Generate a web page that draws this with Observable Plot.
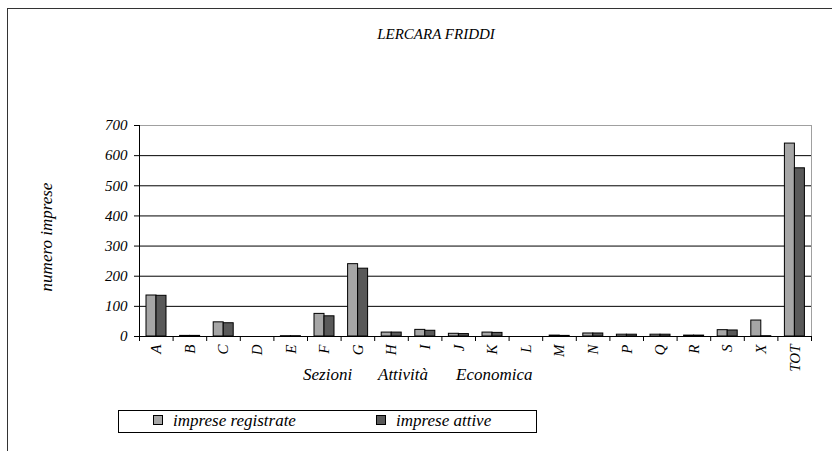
<!DOCTYPE html>
<html><head><meta charset="utf-8">
<script src="https://cdn.jsdelivr.net/npm/d3@7"></script>
<script src="https://cdn.jsdelivr.net/npm/@observablehq/plot@0.6"></script>
<style>
body{margin:0;background:#fff;}
#wrap{position:relative;width:832px;height:451px;overflow:hidden;font-family:"Liberation Serif","DejaVu Serif",serif;font-style:italic;color:#000;}
#border{position:absolute;left:7px;top:8px;width:900px;height:500px;border:1.5px solid #333;box-sizing:border-box;}
#title{position:absolute;left:336px;width:200px;top:26px;text-align:center;font-size:15px;}
#ytitle{position:absolute;left:47px;top:237px;font-size:17px;transform:translate(-50%,-50%) rotate(-90deg);white-space:nowrap;}
.xw{position:absolute;top:365px;font-size:17px;white-space:nowrap;}
#legend{position:absolute;left:118px;top:410px;width:419px;height:23px;border:1px solid #000;box-sizing:border-box;font-size:17px;}
.item{position:absolute;top:0px;white-space:nowrap;}
.sw{display:inline-block;width:8px;height:8px;border:1px solid #000;margin-right:10px;vertical-align:1px;}
#chart{position:absolute;left:0;top:0;}
</style></head><body>
<div id="wrap">
<div id="border"></div>
<div id="title">LERCARA FRIDDI</div>
<div id="ytitle">numero imprese</div>
<div id="chart"></div>
<div class="xw" style="left:303px">Sezioni</div>
<div class="xw" style="left:378px">Attività</div>
<div class="xw" style="left:456px">Economica</div>
<div id="legend"></div>
</div>
<script>
const categories = ["A","B","C","D","E","F","G","H","I","J","K","L","M","N","P","Q","R","S","X","TOT"];
const registrate = [136,2,47,0,1,75,240,13,22,9,13,0,3,10,6,6,3,21,53,640];
const attive = [135,2,44,0,1,67,225,13,19,8,12,0,2,10,6,6,3,20,1,558];
const yTicks = [0,100,200,300,400,500,600,700];
const series = ["imprese registrate","imprese attive"];
const colors = ["#a6a6a6","#595959"];

const regData = categories.map((c,i)=>({cat:c, v:registrate[i]})).filter(d=>d.v>0);
const attData = categories.map((c,i)=>({cat:c, v:attive[i]})).filter(d=>d.v>0);

const W = 832, H = 451, mL = 139, mR = 21, mT = 125, mB = 115;
const step = (W - mL - mR) / categories.length;
const FONT = '"Liberation Serif","DejaVu Serif",serif';

const chart = Plot.plot({
  width: W, height: H,
  marginLeft: mL, marginRight: mR, marginTop: mT, marginBottom: mB,
  style: {fontFamily: FONT, fontStyle: "italic", fontSize: "15px", color: "#000", background: "transparent"},
  x: {type: "band", domain: categories, paddingInner: 0, paddingOuter: 0, round: false, label: null},
  y: {domain: [0, 700], label: null},
  marks: [
    Plot.frame({stroke: "#a0a0a0"}),
    Plot.gridY(yTicks.filter(d => d > 0 && d < 700), {stroke: "#000", strokeOpacity: 1}),
    Plot.barY(regData, {x: "cat", y: "v", fill: colors[0], stroke: "#000", strokeWidth: 1, insetLeft: 7, insetRight: step - 17}),
    Plot.barY(attData, {x: "cat", y: "v", fill: colors[1], stroke: "#000", strokeWidth: 1, insetLeft: 17, insetRight: step - 27}),
    Plot.ruleY([0], {stroke: "#000"}),
    Plot.ruleX([categories[0]], {dx: -step/2, stroke: "#000"}),
    Plot.axisY(yTicks, {tickSize: 5, tickPadding: 7, fontSize: 15}),
    Plot.axisX({tickSize: 0, tickRotate: -90, tickPadding: 8, fontSize: 15}),
    Plot.axisX({tickSize: 5, dx: -step/2, fill: "none"}),
    Plot.axisX([categories[categories.length-1]], {tickSize: 5, dx: step/2, fill: "none"})
  ]
});
document.getElementById("chart").appendChild(chart);

const legend = document.getElementById("legend");
const lx = [34, 257];
series.forEach((s, i) => {
  const it = document.createElement("div");
  it.className = "item";
  it.style.left = lx[i] + "px";
  it.innerHTML = `<span class="sw" style="background:${colors[i]}"></span>${s}`;
  legend.appendChild(it);
});
</script>
</body></html>
